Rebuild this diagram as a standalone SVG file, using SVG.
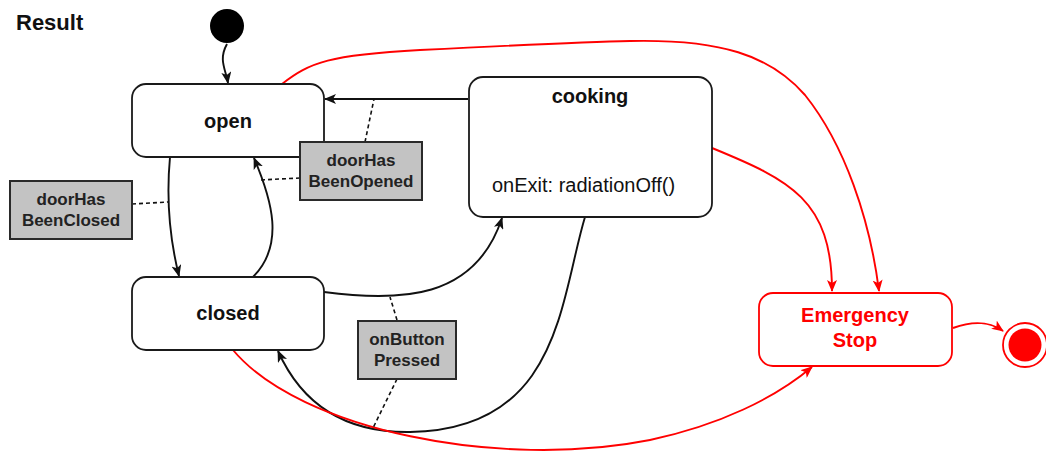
<svg xmlns="http://www.w3.org/2000/svg" width="1046" height="461" viewBox="0 0 1046 461">
<defs>
<marker id="ab" markerWidth="12" markerHeight="10" refX="11" refY="5" orient="auto" markerUnits="userSpaceOnUse"><path d="M0,0 L12,5 L0,10 L3,5 z" fill="#111"/></marker>
<marker id="ar" markerWidth="12" markerHeight="10" refX="11" refY="5" orient="auto" markerUnits="userSpaceOnUse"><path d="M0,0 L12,5 L0,10 L3,5 z" fill="#f00"/></marker>
<style>
.st{fill:#fff;stroke:#1a1a1a;stroke-width:1.8}
.es{fill:#fff;stroke:#f00;stroke-width:1.8}
.nm{font-family:"Liberation Sans",Arial,sans-serif;font-weight:bold;font-size:20px;fill:#111;text-anchor:middle}
.ev{fill:#c3c3c3;stroke:#2a2a2a;stroke-width:2}
.evt{font-family:"Liberation Sans",Arial,sans-serif;font-weight:bold;font-size:17px;fill:#222;text-anchor:middle}
.c{fill:none;stroke:#111;stroke-width:1.9}
.r{fill:none;stroke:#f00;stroke-width:1.9}
.d{fill:none;stroke:#111;stroke-width:1.6;stroke-dasharray:4,3}
</style>
</defs>
<rect width="1046" height="461" fill="#fff"/>
<text x="16" y="30" font-family="Liberation Sans,Arial,sans-serif" font-weight="bold" font-size="22" fill="#111">Result</text>
<g id="connectors">
<path class="c" d="M227,44 C218,60 226,70 228,83" marker-end="url(#ab)"/>
<path class="c" d="M468,99 L325,99" marker-end="url(#ab)"/>
<path class="c" d="M170,157 C166,200 170,240 179,276" marker-end="url(#ab)"/>
<path class="c" d="M253,277 C285,245 272,200 254,158" marker-end="url(#ab)"/>
<path class="c" d="M324,292 C400,302 475,300 502,218" marker-end="url(#ab)"/>
<path class="c" d="M585,217 C560,300 560,430 410,432 C340,433 300,400 278,351" marker-end="url(#ab)"/>
<path class="r" d="M282,84 C310,62 330,55 420,50 C520,45 580,42 630,41 C720,39 770,55 805,95 C845,145 870,220 879,291" marker-end="url(#ar)"/>
<path class="r" d="M712,148 C790,180 832,200 832,291" marker-end="url(#ar)"/>
<path class="r" d="M233,350 C300,430 500,470 650,440 C720,425 775,398 812,367" marker-end="url(#ar)"/>
<path class="r" d="M953,328 C975,320 990,322 1003,331" marker-end="url(#ar)"/>
<path class="d" d="M365,142 L374,99"/>
<path class="d" d="M300,178 L260,180"/>
<path class="d" d="M132,204 L168,202"/>
<path class="d" d="M397,320 L390,297"/>
<path class="d" d="M397,379 L373,428"/>
</g>
<g id="initial"><circle cx="227" cy="26" r="17" fill="#000"/></g>
<g id="open"><rect class="st" x="132" y="84" width="192" height="73" rx="14"/><text class="nm" x="228" y="128">open</text></g>
<g id="closed"><rect class="st" x="132" y="277" width="192" height="73" rx="14"/><text class="nm" x="228" y="320">closed</text></g>
<g id="cooking"><rect class="st" x="469" y="77" width="243" height="140" rx="14"/><text class="nm" x="590" y="103">cooking</text><text x="492" y="192" font-family="Liberation Sans,Arial,sans-serif" font-size="20" fill="#111">onExit: radiationOff()</text></g>
<g id="emergency"><rect class="es" x="759" y="293" width="193" height="73" rx="14"/><text class="nm" x="855" y="322" style="fill:#f00">Emergency</text><text class="nm" x="855" y="347" style="fill:#f00">Stop</text></g>
<g id="final"><circle cx="1025" cy="345" r="22" fill="#fff" stroke="#f00" stroke-width="1.8"/><circle cx="1025" cy="345" r="16.5" fill="#f00"/></g>
<g id="doorHasBeenOpened"><rect class="ev" x="300" y="142" width="122" height="58"/><text class="evt" x="361" y="166">doorHas</text><text class="evt" x="361" y="187">BeenOpened</text></g>
<g id="doorHasBeenClosed"><rect class="ev" x="10" y="181" width="122" height="58"/><text class="evt" x="71" y="205">doorHas</text><text class="evt" x="71" y="226">BeenClosed</text></g>
<g id="onButtonPressed"><rect class="ev" x="358" y="321" width="98" height="58"/><text class="evt" x="407" y="345">onButton</text><text class="evt" x="407" y="366">Pressed</text></g>
</svg>
